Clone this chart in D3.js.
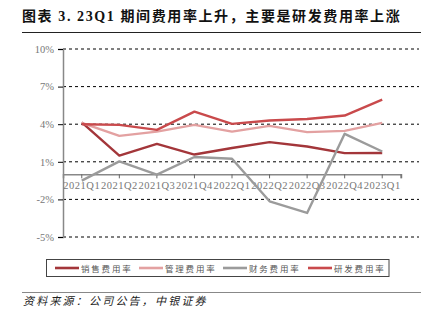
<!DOCTYPE html>
<html>
<head>
<meta charset="utf-8">
<script src="https://cdn.jsdelivr.net/npm/d3@7"></script>
<style>
  html, body { margin: 0; padding: 0; background: #fff; }
  svg { display: block; }
</style>
</head>
<body>
<svg id="chart" width="431" height="324"></svg>
<script>
// Quarterly expense ratios (%)
const quarters = ["2021Q1","2021Q2","2021Q3","2021Q4","2022Q1","2022Q2","2022Q3","2022Q4","2023Q1"];
const salesRate   = [4.15, 1.5, 2.43, 1.58, 2.1, 2.57, 2.22, 1.69, 1.7];
const adminRate   = [4.1, 3.07, 3.41, 3.95, 3.41, 3.87, 3.37, 3.47, 4.1];
const financeRate = [-0.5, 1.03, -0.03, 1.38, 1.24, -2.15, -3.08, 3.23, 1.82];
const rdRate      = [4.0, 3.95, 3.55, 5.0, 4.03, 4.29, 4.42, 4.69, 5.96];
const yTicks = [-5, -2, 1, 4, 7, 10];
const seriesNames = ["销售费用率", "管理费用率", "财务费用率", "研发费用率"];
const seriesColors = ["#a3363a", "#e3a1a1", "#9b9b9b", "#c94a4c"];

const series = [salesRate, adminRate, financeRate, rdRate].map((vals, i) => ({
  name: seriesNames[i], color: seriesColors[i], values: vals
}));

const svg = d3.select("#chart");
const serif = "'Liberation Serif', 'Times New Roman', serif";

// Title with rule beneath
svg.append("text")
  .attr("x", 22).attr("y", 21)
  .attr("font-family", "'Liberation Serif', 'Noto Sans CJK SC', serif")
  .attr("font-weight", "bold").attr("font-size", 14).attr("fill", "#111")
  .attr("letter-spacing", 1.6)
  .text("图表 3. 23Q1 期间费用率上升，主要是研发费用率上涨");
svg.append("line").attr("x1", 22).attr("x2", 421).attr("y1", 32.5).attr("y2", 32.5)
  .attr("stroke", "#222").attr("stroke-width", 1.2);

// Scales
const x = d3.scaleBand().domain(quarters).range([63, 401]);
const xc = d => x(d) + x.bandwidth() / 2;
const y = d3.scaleLinear().domain([-5, 10]).range([237, 49]);

// Dashed gridlines
svg.append("g").selectAll("line").data(yTicks).join("line")
  .attr("x1", 63).attr("x2", 419)
  .attr("y1", d => y(d)).attr("y2", d => y(d))
  .attr("stroke", "#000").attr("stroke-width", 1).attr("stroke-dasharray", "3,3");

// Y axis
const yAxis = svg.append("g").attr("transform", "translate(63,0)")
  .call(d3.axisLeft(y).tickValues(yTicks).tickSize(5).tickPadding(4).tickFormat(d => d + "%"));
yAxis.select(".domain").attr("stroke", "#888").attr("stroke-width", 1.5);
yAxis.selectAll(".tick line").attr("stroke", "#000");
yAxis.selectAll("text").attr("font-family", serif).attr("font-size", 10.5).attr("fill", "#777");

// X axis on the zero line
const xAxis = svg.append("g").attr("transform", `translate(0,${y(0)})`)
  .call(d3.axisBottom(x).tickSizeOuter(0).tickSize(4).tickPadding(3));
xAxis.select(".domain").attr("stroke", "#888").attr("stroke-width", 1.5);
xAxis.selectAll(".tick line").attr("stroke", "#666");
xAxis.selectAll("text").attr("font-family", serif).attr("font-size", 10.5)
  .attr("fill", "#777").attr("letter-spacing", 0.5);
xAxis.append("line").attr("x1", 401).attr("x2", 401).attr("y1", 0).attr("y2", 4).attr("stroke", "#666");

// Lines
const line = d3.line().x((d, i) => xc(quarters[i])).y(d => y(d));
svg.append("g").selectAll("path").data(series).join("path")
  .attr("d", d => line(d.values))
  .attr("fill", "none").attr("stroke", d => d.color)
  .attr("stroke-width", 2.4).attr("stroke-linejoin", "round");

// Legend
svg.append("rect").attr("x", 46.5).attr("y", 259.5).attr("width", 342.5).attr("height", 17)
  .attr("fill", "#fff").attr("stroke", "#444").attr("stroke-width", 1);
const legendX = [55, 139, 223, 308];
const lg = svg.append("g").selectAll("g").data(series).join("g")
  .attr("transform", (d, i) => `translate(${legendX[i]},268)`);
lg.append("line").attr("x1", 0).attr("x2", 24).attr("stroke", d => d.color).attr("stroke-width", 2.6);
lg.append("text").attr("x", 26).attr("y", 3.5)
  .attr("font-family", "'Noto Sans CJK SC', sans-serif").attr("font-size", 8.5)
  .attr("letter-spacing", 1.8).attr("fill", "#555")
  .text(d => d.name);

// Source note
svg.append("line").attr("x1", 22).attr("x2", 421).attr("y1", 292.5).attr("y2", 292.5)
  .attr("stroke", "#888").attr("stroke-width", 1);
svg.append("text").attr("x", 23).attr("y", 305)
  .attr("font-family", "'Noto Sans CJK SC', sans-serif").attr("font-size", 11)
  .attr("font-style", "italic").attr("fill", "#222").attr("letter-spacing", 2.2)
  .text("资料来源：公司公告，中银证券");
</script>
</body>
</html>
